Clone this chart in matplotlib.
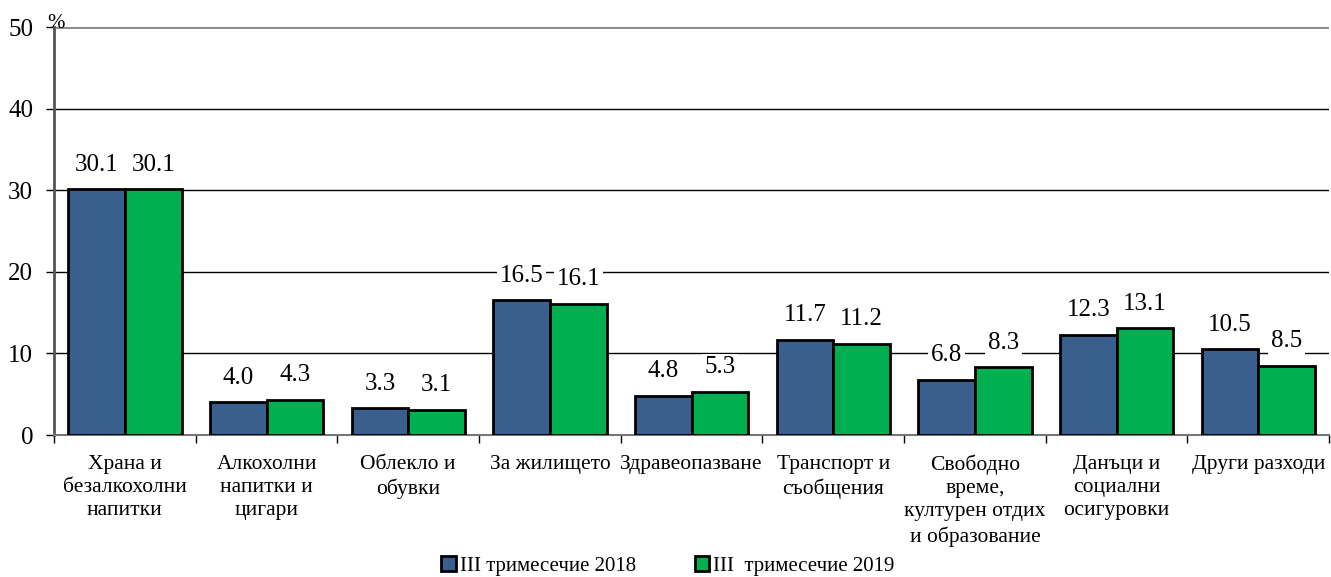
import matplotlib.pyplot as plt
import numpy as np

plt.rcParams['font.family'] = ['Liberation Serif', 'DejaVu Serif']

categories = ['Храна и\nбезалкохолни\nнапитки', 'Алкохолни\nнапитки и\nцигари',
              'Облекло и\nобувки', 'За жилището', 'Здравеопазване',
              'Транспорт и\nсъобщения', 'Свободно\nвреме,\nкултурен отдих\nи образование',
              'Данъци и\nсоциални\nосигуровки', 'Други разходи']
q3_2018 = [30.1, 4.0, 3.3, 16.5, 4.8, 11.7, 6.8, 12.3, 10.5]
q3_2019 = [30.1, 4.3, 3.1, 16.1, 5.3, 11.2, 8.3, 13.1, 8.5]
labels = ['III тримесечие 2018', 'III  тримесечие 2019']

blue = '#3A5F8F'
green = '#00B050'

fig = plt.figure(figsize=(13.31, 5.77), dpi=100)
ax = fig.add_axes([0.0406, 0.246, 0.958, 0.707])

x = np.arange(len(categories))
w = 0.4
b1 = ax.bar(x - w / 2, q3_2018, w, color=blue, edgecolor='black', linewidth=2, label=labels[0], zorder=3)
b2 = ax.bar(x + w / 2, q3_2019, w, color=green, edgecolor='black', linewidth=2, label=labels[1], zorder=3)

for bars in (b1, b2):
    for r in bars:
        ax.text(r.get_x() + r.get_width() / 2, r.get_height() + 3.0, '%.1f' % r.get_height(),
                ha='center', va='center', fontsize=18, zorder=4,
                bbox=dict(facecolor='white', edgecolor='none', pad=2))

ax.set_xlim(-0.5, len(categories) - 0.5)
ax.set_ylim(0, 50)
ax.set_yticks([0, 10, 20, 30, 40, 50])
ax.yaxis.grid(True, color='black', linewidth=1)
ax.set_axisbelow(True)
ax.tick_params(axis='y', labelsize=18, length=6, width=1, direction='out', pad=9)

ax.set_xticks(np.arange(len(categories) + 1) - 0.5)
ax.set_xticklabels([])
ax.set_xticks(x, minor=True)
ax.set_xticklabels(categories, minor=True, fontsize=15.5, va='top', linespacing=1.3)
ax.tick_params(axis='x', which='major', length=6, width=1, direction='out', color='black')
ax.tick_params(axis='x', which='minor', length=0, pad=14)

for s in ['top', 'right']:
    ax.spines[s].set_visible(False)
ax.spines['left'].set_color('#555555')
ax.spines['left'].set_linewidth(2)
ax.spines['bottom'].set_color('#777777')
ax.spines['bottom'].set_linewidth(1.5)
ax.axhline(50, color='#888888', linewidth=2, zorder=2)

ax.text(-0.005, 50.5, '%', fontsize=15, ha='left', va='center', transform=ax.get_yaxis_transform())

fig.legend(handles=[b1, b2], labels=labels, loc='center', bbox_to_anchor=(0.502, 0.019), ncol=2,
           frameon=False, fontsize=15, handlelength=0.7, handleheight=0.7, handletextpad=0.2,
           columnspacing=2.8, borderpad=0.1)

fig.savefig('out.png', dpi=100)
